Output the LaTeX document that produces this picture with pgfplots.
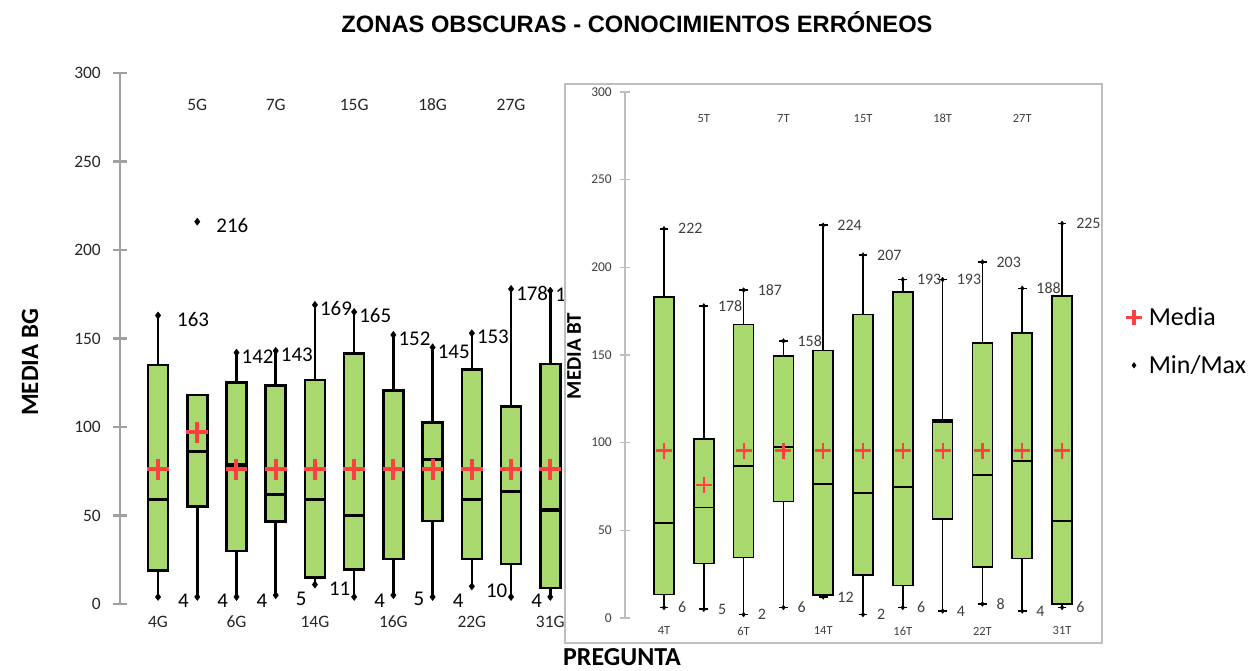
\documentclass[border=0pt]{standalone}
\usepackage{fontspec}
\setmainfont{Carlito}
\newfontfamily\arialfont{Liberation Sans}
\usepackage{pgfplots}
\pgfplotsset{compat=1.18}
\usepgfplotslibrary{statistics}
\definecolor{boxgreen}{RGB}{169,217,110}
\definecolor{meanred}{RGB}{255,64,64}
\definecolor{axgrey}{RGB}{160,160,160}
\definecolor{framegrey}{RGB}{191,191,191}
\definecolor{txtgrey}{RGB}{64,64,64}
\pgfplotsset{lbox/.style={forget plot, draw=black, fill=boxgreen, line width=2.6bp,
  boxplot={every median/.style={draw=black, line width=3.4bp}}},
  rbox/.style={forget plot, draw=black, fill=boxgreen, line width=1.6bp,
  boxplot={every median/.style={draw=black, line width=1.9bp}}}}
\newcommand{\lbox}[6]{\addplot[lbox,
  boxplot prepared={draw direction=y, draw position=#1, lower whisker=#2, lower quartile=#3, median=#4,
  upper quartile=#5, upper whisker=#6, box extend=0.51, whisker extend=0}] coordinates {};}
\newcommand{\rbox}[6]{\addplot[rbox,
  boxplot prepared={draw direction=y, draw position=#1, lower whisker=#2, lower quartile=#3, median=#4,
  upper quartile=#5, upper whisker=#6, box extend=0.5, whisker extend=0.22}] coordinates {};}
\begin{document}
\begin{tikzpicture}
\useasboundingbox (0,0) rectangle (1251bp,671bp);
% ---------------- left chart ----------------
\begin{axis}[at={(120bp,67bp)}, anchor=south west, scale only axis,
  width=469.5bp, height=531bp, xmin=-0.97, xmax=11, ymin=0, ymax=300, clip=false,
  axis x line=none, axis y line*=left,
  axis line style={draw=axgrey, line width=2.5bp},
  ytick={0,50,...,300}, tick align=center, major tick length=14bp,
  major tick style={draw=axgrey, line width=2.5bp},
  /pgf/number format/assume math mode=true,
  yticklabel style={font=\fontsize{17.5}{17.5}\selectfont, text=black!85, anchor=east, inner sep=0pt, xshift=-12bp}]
% pos, min, Q1, median, Q3, upper whisker
\lbox{0}{4}{19}{59}{135}{163}
\lbox{1}{4}{55}{86}{118}{118}
\lbox{2}{4}{30}{78.5}{125}{142}
\lbox{3}{5}{46.5}{62}{123.5}{143}
\lbox{4}{11}{15}{59}{126.5}{169}
\lbox{5}{4}{19.5}{50}{141.5}{165}
\lbox{6}{5}{25.5}{76}{120.5}{152}
\lbox{7}{4}{47}{81.5}{102.5}{145}
\lbox{8}{10}{25.5}{59}{132.5}{153}
\lbox{9}{4}{22.5}{63.5}{111.5}{178}
\lbox{10}{4}{9}{53}{135.5}{177}
% min / max points
\addplot[forget plot, only marks, mark=diamond*, mark size=3.6bp, black] coordinates {
 (0,4)(0,163)(1,4)(1,216)(2,4)(2,142)(3,5)(3,143)(4,11)(4,169)(5,4)(5,165)
 (6,5)(6,152)(7,4)(7,145)(8,10)(8,153)(9,4)(9,178)(10,4)(10,177)};
% mean
\addplot[forget plot, only marks, mark=+, mark size=10.8bp, mark options={line width=4bp}, meanred] coordinates {
 (0,76)(1,97)(2,76)(3,76)(4,76)(5,76)(6,76)(7,76)(8,76)(9,76)(10,76)};
% labels
\addplot[forget plot, draw=none, mark=none, nodes near coords, point meta=explicit symbolic,
  nodes near coords style={anchor=west, inner sep=0pt, xshift=19bp, yshift=-4bp, font=\fontsize{21}{21}\selectfont, text=black}]
  coordinates {(0,163)[163] (1,216)[216]};
\addplot[forget plot, draw=none, mark=none, nodes near coords, point meta=explicit symbolic,
  nodes near coords style={anchor=west, inner sep=0pt, xshift=5bp, yshift=-4bp, font=\fontsize{21}{21}\selectfont, text=black}]
  coordinates {(2,142)[142] (3,143)[143] (4,169)[169] (5,165)[165] (6,152)[152] (7,145)[145] (8,153)[153] (9,178)[178] (10,177)[177]};
\addplot[forget plot, draw=none, mark=none, nodes near coords, point meta=explicit symbolic,
  nodes near coords style={anchor=west, inner sep=0pt, xshift=20bp, yshift=-4bp, font=\fontsize{21}{21}\selectfont, text=black}]
  coordinates {(0,4)[4] (1,4)[4] (2,4)[4] (3,5)[5] (5,4)[4] (6,5)[5] (7,4)[4] (9,4)[4] (10,4)[4]};
\addplot[forget plot, draw=none, mark=none, nodes near coords, point meta=explicit symbolic,
  nodes near coords style={anchor=west, inner sep=0pt, xshift=14bp, yshift=-4bp, font=\fontsize{21}{21}\selectfont, text=black}]
  coordinates {(4,11)[11] (8,10)[10]};
\begin{scope}[every node/.style={font=\fontsize{17.5}{17.5}\selectfont, text=black!85}]
\node at (axis cs:0,-10.2) {4G};
\node at (axis cs:2,-10.2) {6G};
\node at (axis cs:4,-10.2) {14G};
\node at (axis cs:6,-10.2) {16G};
\node at (axis cs:8,-10.2) {22G};
\node at (axis cs:10,-10.2) {31G};
\node at (axis cs:1,282) {5G};
\node at (axis cs:3,282) {7G};
\node at (axis cs:5,282) {15G};
\node at (axis cs:7,282) {18G};
\node at (axis cs:9,282) {27G};
\end{scope}
\end{axis}
\node[rotate=90, font=\bfseries\fontsize{25}{25}\selectfont] at (30bp,308.5bp) {MEDIA BG};
\node[anchor=base, inner sep=0pt, font=\arialfont\bfseries\fontsize{23.8}{23.8}\selectfont] at (637bp,638bp) {ZONAS OBSCURAS - CONOCIMIENTOS ERRÓNEOS};
% ---------------- right chart ----------------
\draw[framegrey, line width=1.2bp, fill=white] (565bp,28bp) rectangle (1102bp,587bp);
\begin{axis}[at={(625bp,53bp)}, anchor=south west, scale only axis,
  width=464.9bp, height=526bp, xmin=-0.98, xmax=10.7, ymin=0, ymax=300, clip=false,
  axis x line=none, axis y line*=left,
  axis line style={draw=framegrey, line width=1.2bp},
  ytick={0,50,...,300}, tick align=center, major tick length=10bp,
  major tick style={draw=framegrey, line width=1.2bp},
  /pgf/number format/assume math mode=true,
  yticklabel style={font=\fontsize{13.5}{13.5}\selectfont, text=txtgrey, anchor=east, inner sep=0pt, xshift=-8bp},
  legend style={draw=none, fill=none, at={(1.0777,0.526)}, anchor=west,
    font=\fontsize{26}{26}\selectfont, row sep=28.5bp, inner sep=0pt,
    nodes={inner sep=0pt}, column sep=7bp},
  legend cell align=left]
\rbox{0}{6}{13.5}{54}{183}{222}
\rbox{1}{5}{31}{63}{102}{178}
\rbox{2}{2}{34.5}{86.5}{167.5}{187}
\rbox{3}{6}{66.5}{97.5}{149.5}{158}
\rbox{4}{12}{13}{76.5}{152.5}{224}
\rbox{5}{2}{24.5}{71.5}{173}{207}
\rbox{6}{6}{18.5}{74.5}{186}{193}
\rbox{7}{4}{56.5}{112}{113}{193}
\rbox{8}{8}{29}{81.5}{157}{203}
\rbox{9}{4}{34}{89.5}{162.5}{188}
\rbox{10}{6}{8}{55.5}{183.5}{225}
\addplot[forget plot, only marks, mark=diamond*, mark size=2.4bp, black] coordinates {
 (0,6)(0,222)(1,5)(1,178)(2,2)(2,187)(3,6)(3,158)(4,12)(4,224)(5,2)(5,207)
 (6,6)(6,193)(7,4)(7,193)(8,8)(8,203)(9,4)(9,188)(10,6)(10,225)};
\addplot[forget plot, only marks, mark=+, mark size=8bp, mark options={line width=2.2bp}, meanred] coordinates {
 (0,95.5)(1,75.7)(2,95.5)(3,95.5)(4,95.5)(5,95.5)(6,95.5)(7,95.5)(8,95.5)(9,95.5)(10,95.5)};
\addplot[forget plot, draw=none, mark=none, nodes near coords, point meta=explicit symbolic,
  nodes near coords style={anchor=west, inner sep=0pt, xshift=14bp, font=\fontsize{16}{16}\selectfont, text=txtgrey}]
  coordinates {(0,222)[222] (1,178)[178] (2,187)[187] (3,158)[158] (4,224)[224] (5,207)[207]
  (6,193)[193] (7,193)[193] (8,203)[203] (9,188)[188] (10,225)[225]
  (0,6)[6] (1,5)[5] (2,2)[2] (3,6)[6] (4,12)[12] (5,2)[2] (6,6)[6] (7,4)[4] (8,8)[8] (9,4)[4] (10,6)[6]};
\begin{scope}[every node/.style={font=\fontsize{12.5}{12.5}\selectfont, text=txtgrey}]
\node at (axis cs:0,-7.4) {4T};
\node at (axis cs:2,-7.4) {6T};
\node at (axis cs:4,-7.4) {14T};
\node at (axis cs:6,-7.4) {16T};
\node at (axis cs:8,-7.4) {22T};
\node at (axis cs:10,-7.4) {31T};
\node at (axis cs:1,285) {5T};
\node at (axis cs:3,285) {7T};
\node at (axis cs:5,285) {15T};
\node at (axis cs:7,285) {18T};
\node at (axis cs:9,285) {27T};
\end{scope}
\addlegendimage{only marks, mark=+, meanred, mark size=7.8bp, mark options={line width=3.3bp}}
\addlegendentry{Media}
\addlegendimage{only marks, mark=diamond*, black, mark size=2.8bp}
\addlegendentry{Min/Max}
\end{axis}
\node[rotate=90, font=\bfseries\fontsize{21}{21}\selectfont] at (574bp,315bp) {MEDIA BT};
\node[anchor=base west, inner sep=0pt, font=\bfseries\fontsize{26}{26}\selectfont] at (563bp,6bp) {PREGUNTA};
\end{tikzpicture}
\end{document}
